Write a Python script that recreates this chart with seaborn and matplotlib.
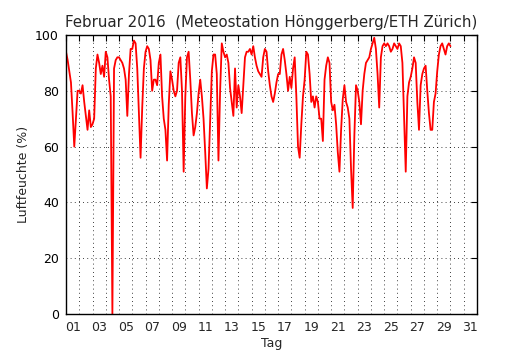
import numpy as np
import pandas as pd
import seaborn as sns
import matplotlib.pyplot as plt

# relative humidity, 3-hourly readings, Feb 1 00:00 .. Mar 1 00:00 (days since Feb 1)
day01 = [94, 91, 87, 83, 72, 60, 70, 80]
day02 = [80, 79, 82, 76, 71, 66, 73, 67]
day03 = [68, 70, 88, 93, 90, 86, 89, 85]
day04 = [94, 92, 84, 78, 0, 88, 91, 92]
day05 = [92, 91, 90, 88, 84, 71, 86, 95]
day06 = [95, 98, 97, 88, 72, 56, 74, 88]
day07 = [94, 96, 95, 91, 80, 84, 84, 82]
day08 = [90, 93, 78, 70, 66, 55, 75, 87]
day09 = [84, 80, 78, 80, 90, 92, 80, 51]
day10 = [78, 92, 94, 84, 72, 64, 67, 72]
day11 = [79, 84, 78, 70, 58, 45, 52, 70]
day12 = [87, 93, 93, 86, 55, 80, 97, 94]
day13 = [92, 93, 90, 81, 76, 71, 88, 74]
day14 = [82, 78, 72, 82, 92, 94, 94, 95]
day15 = [93, 96, 92, 89, 87, 86, 85, 92]
day16 = [95, 94, 87, 82, 78, 76, 79, 83]
day17 = [86, 86, 93, 95, 91, 86, 80, 85]
day18 = [81, 88, 92, 78, 60, 56, 68, 78]
day19 = [84, 94, 93, 86, 76, 78, 74, 78]
day20 = [76, 70, 70, 62, 84, 89, 92, 90]
day21 = [76, 73, 75, 68, 58, 51, 66, 77]
day22 = [82, 76, 74, 70, 52, 38, 64, 82]
day23 = [80, 76, 68, 80, 86, 90, 91, 92]
day24 = [95, 97, 99, 95, 86, 74, 92, 96]
day25 = [97, 96, 97, 96, 94, 95, 97, 96]
day26 = [95, 97, 96, 90, 71, 51, 78, 83]
day27 = [85, 88, 92, 90, 76, 66, 82, 86]
day28 = [88, 89, 80, 72, 66, 66, 76, 79]
day29 = [87, 93, 96, 97, 95, 93, 96, 97]
last = [96]

humidity = (day01 + day02 + day03 + day04 + day05 + day06 + day07 + day08 + day09 + day10
            + day11 + day12 + day13 + day14 + day15 + day16 + day17 + day18 + day19 + day20
            + day21 + day22 + day23 + day24 + day25 + day26 + day27 + day28 + day29 + last)
days = np.arange(len(humidity)) / 8.0

day_labels = ['%02d' % d for d in range(1, 32, 2)]

df = pd.DataFrame({'tag': days, 'rh': humidity})

sns.set_style('white')
plt.rcParams['font.family'] = ['DejaVu Sans']

fig = plt.figure(figsize=(5.3, 3.5), dpi=100)
ax = fig.add_axes([0.1245, 0.103, 0.7755, 0.797])

sns.lineplot(data=df, x='tag', y='rh', color='red', lw=1.3, ax=ax)

ax.set_xlim(0, 31)
ax.set_ylim(0, 100)
ax.set_xticks(np.arange(0, 32, 1))
ax.set_xticklabels([])
ax.set_xticks(np.arange(0.5, 31, 2), minor=True)
ax.set_xticklabels(day_labels, minor=True)
ax.set_yticks(np.arange(0, 101, 20))

ax.tick_params(which='major', direction='in', length=4, width=0.8, colors='k',
               top=True, right=True, labelsize=9, pad=5)
ax.tick_params(which='minor', length=0, labelsize=9, pad=5)
ax.grid(True, which='major', color='k', lw=0.6, dashes=(1, 4))
for s in ax.spines.values():
    s.set_color('k')
    s.set_linewidth(1)

ax.set_title('Februar 2016  (Meteostation Hönggerberg/ETH Zürich)', fontsize=10.8)
ax.set_xlabel('Tag', fontsize=9, labelpad=2)
ax.set_ylabel('Luftfeuchte (%)', fontsize=9)

plt.savefig('out.png', dpi=100)
